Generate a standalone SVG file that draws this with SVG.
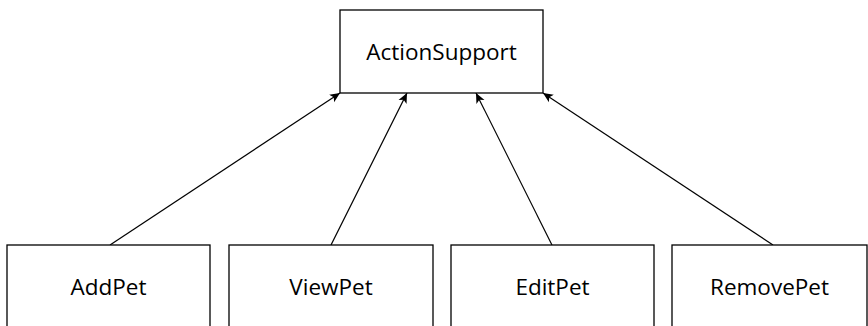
<svg xmlns="http://www.w3.org/2000/svg" width="868" height="326" viewBox="0 0 868 326">
<style>
.box{fill:#fff;stroke:#000;stroke-width:1.3}
.lbl{font-family:"Open Sans","Liberation Sans",sans-serif;font-size:22.5px;fill:#000;text-anchor:middle}
.edge{stroke:#000;stroke-width:1.2;fill:none;marker-end:url(#arr)}
</style>
<defs>
<marker id="arr" viewBox="0 0 10 10" refX="10" refY="5" markerWidth="10" markerHeight="10" markerUnits="userSpaceOnUse" orient="auto">
<path d="M0,0.5 L10,5 L0,9.5 L2.5,5 Z" fill="#000"/>
</marker>
</defs>
<rect width="868" height="326" fill="#fff"/>
<g id="connectors">
<line class="edge" x1="110" y1="245" x2="340" y2="93"/>
<line class="edge" x1="331" y1="245" x2="407" y2="93"/>
<line class="edge" x1="552" y1="245" x2="476" y2="93"/>
<line class="edge" x1="773" y1="245" x2="543" y2="93"/>
</g>
<g id="ActionSupport">
<rect class="box" x="340" y="10" width="203" height="83"/>
<text class="lbl" x="441.5" y="60">ActionSupport</text>
</g>
<g id="AddPet">
<rect class="box" x="7" y="245" width="203" height="90"/>
<text class="lbl" x="108.5" y="295">AddPet</text>
</g>
<g id="ViewPet">
<rect class="box" x="229" y="245" width="204" height="90"/>
<text class="lbl" x="331" y="295">ViewPet</text>
</g>
<g id="EditPet">
<rect class="box" x="451" y="245" width="203" height="90"/>
<text class="lbl" x="552.5" y="295">EditPet</text>
</g>
<g id="RemovePet">
<rect class="box" x="672" y="245" width="195" height="90"/>
<text class="lbl" x="769.5" y="295">RemovePet</text>
</g>
</svg>
